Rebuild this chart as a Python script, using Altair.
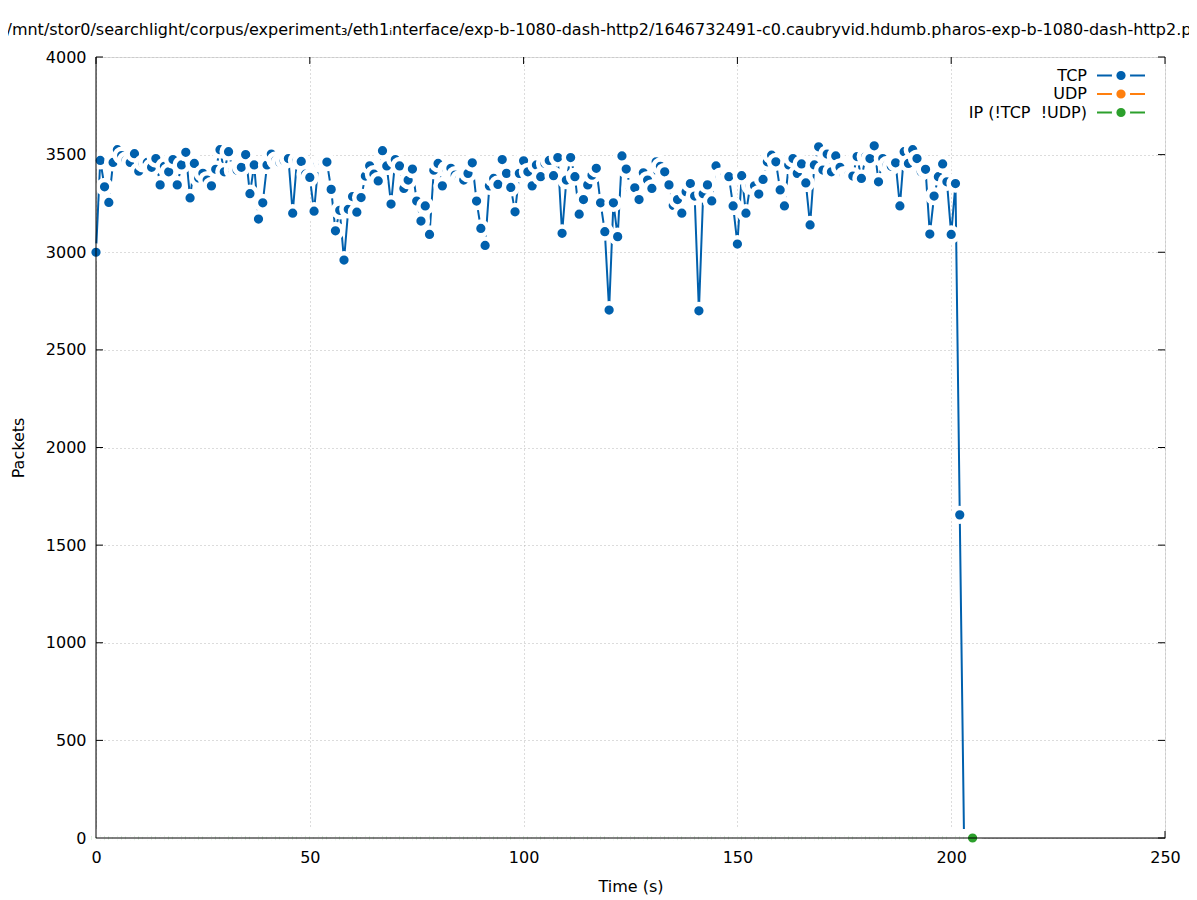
import altair as alt
import pandas as pd

# ---------------- data ----------------
title_text = ("/mnt/stor0/searchlight/corpus/experiment\u2083/eth1\u1d62nterface/"
              "exp-b-1080-dash-http2/1646732491-c0.caubryvid.hdumb.pharos-exp-b-1080-dash-http2.pcap")

series_names = ["TCP", "UDP", "IP (!TCP \u00a0!UDP)"]
series_colors = ["#0060ad", "#ff7f0e", "#2ca02c"]

x_ticks = [0, 50, 100, 150, 200, 250]
y_ticks = [0, 500, 1000, 1500, 2000, 2500, 3000, 3500, 4000]

tcp_time = list(range(0, 204))
tcp_packets = [
    3000, 3470, 3335, 3255, 3460, 3525, 3495, 3470, 3460, 3505,
    3415, 3455, 3460, 3435, 3480, 3345, 3440, 3412, 3475, 3345,
    3447, 3512, 3278, 3455, 3380, 3404, 3370, 3340, 3425, 3525,
    3412, 3515, 3420, 3420, 3435, 3500, 3300, 3447, 3170, 3253,
    3447, 3503, 3470, 3460, 3470, 3480, 3200, 3470, 3465, 3400,
    3383, 3210, 3455, 3460, 3462, 3322, 3110, 3215, 2960, 3220,
    3285, 3205, 3280, 3390, 3443, 3400, 3365, 3520, 3442, 3247,
    3475, 3442, 3327, 3370, 3426, 3262, 3160, 3237, 3091, 3420,
    3455, 3340, 3425, 3430, 3395, 3375, 3370, 3404, 3458, 3262,
    3122, 3035, 3340, 3378, 3347, 3475, 3404, 3332, 3207, 3404,
    3468, 3412, 3340, 3447, 3387, 3455, 3470, 3392, 3485, 3097,
    3370, 3485, 3387, 3195, 3270, 3345, 3395, 3430, 3253, 3105,
    2704, 3253, 3080, 3493, 3426, 3327, 3330, 3270, 3407, 3370,
    3327, 3463, 3440, 3412, 3345, 3240, 3270, 3200, 3310, 3352,
    3288, 2700, 3300, 3345, 3263, 3442, 3387, 3390, 3387, 3237,
    3042, 3392, 3200, 3340, 3340, 3298, 3373, 3463, 3497, 3463,
    3319, 3237, 3447, 3480, 3404, 3452, 3355, 3140, 3447, 3540,
    3421, 3503, 3412, 3493, 3435, 3395, 3395, 3390, 3490, 3378,
    3490, 3480, 3545, 3361, 3480, 3447, 3440, 3458, 3237, 3515,
    3455, 3525, 3480, 3412, 3425, 3093, 3288, 3387, 3452, 3361,
    3091, 3352, 1655, 0,
]

other_time = list(range(0, 206))
udp_packets = [
    0, 0, 0, 0, 0, 0, 0, 0, 0, 0, 0, 0, 0, 0, 0, 0, 0, 0, 0, 0,
    0, 0, 0, 0, 0, 0, 0, 0, 0, 0, 0, 0, 0, 0, 0, 0, 0, 0, 0, 0,
    0, 0, 0, 0, 0, 0, 0, 0, 0, 0, 0, 0, 0, 0, 0, 0, 0, 0, 0, 0,
    0, 0, 0, 0, 0, 0, 0, 0, 0, 0, 0, 0, 0, 0, 0, 0, 0, 0, 0, 0,
    0, 0, 0, 0, 0, 0, 0, 0, 0, 0, 0, 0, 0, 0, 0, 0, 0, 0, 0, 0,
    0, 0, 0, 0, 0, 0, 0, 0, 0, 0, 0, 0, 0, 0, 0, 0, 0, 0, 0, 0,
    0, 0, 0, 0, 0, 0, 0, 0, 0, 0, 0, 0, 0, 0, 0, 0, 0, 0, 0, 0,
    0, 0, 0, 0, 0, 0, 0, 0, 0, 0, 0, 0, 0, 0, 0, 0, 0, 0, 0, 0,
    0, 0, 0, 0, 0, 0, 0, 0, 0, 0, 0, 0, 0, 0, 0, 0, 0, 0, 0, 0,
    0, 0, 0, 0, 0, 0, 0, 0, 0, 0, 0, 0, 0, 0, 0, 0, 0, 0, 0, 0,
    0, 0, 0, 0, 0, 0,
]
ip_packets = [
    0, 0, 0, 0, 0, 0, 0, 0, 0, 0, 0, 0, 0, 0, 0, 0, 0, 0, 0, 0,
    0, 0, 0, 0, 0, 0, 0, 0, 0, 0, 0, 0, 0, 0, 0, 0, 0, 0, 0, 0,
    0, 0, 0, 0, 0, 0, 0, 0, 0, 0, 0, 0, 0, 0, 0, 0, 0, 0, 0, 0,
    0, 0, 0, 0, 0, 0, 0, 0, 0, 0, 0, 0, 0, 0, 0, 0, 0, 0, 0, 0,
    0, 0, 0, 0, 0, 0, 0, 0, 0, 0, 0, 0, 0, 0, 0, 0, 0, 0, 0, 0,
    0, 0, 0, 0, 0, 0, 0, 0, 0, 0, 0, 0, 0, 0, 0, 0, 0, 0, 0, 0,
    0, 0, 0, 0, 0, 0, 0, 0, 0, 0, 0, 0, 0, 0, 0, 0, 0, 0, 0, 0,
    0, 0, 0, 0, 0, 0, 0, 0, 0, 0, 0, 0, 0, 0, 0, 0, 0, 0, 0, 0,
    0, 0, 0, 0, 0, 0, 0, 0, 0, 0, 0, 0, 0, 0, 0, 0, 0, 0, 0, 0,
    0, 0, 0, 0, 0, 0, 0, 0, 0, 0, 0, 0, 0, 0, 0, 0, 0, 0, 0, 0,
    0, 0, 0, 0, 0, 0,
]

# ---------------- layout / style ----------------
W, H = 1069, 781
FONT = "DejaVu Sans"
TICK = 7
PT_SIZE = 189
HALO = 4.5

xs = alt.Scale(domain=[0, 250], nice=False, zero=False)
ys = alt.Scale(domain=[0, 4000], nice=False, zero=False)

x_axis = alt.Axis(values=x_ticks, format="d", grid=True, gridColor="#b8b8b8",
                  gridDash=[1, 3], gridWidth=1, domain=False, ticks=False, tickSize=0,
                  labelPadding=11, labelFontSize=16, labelFont=FONT, labelColor="black",
                  labelFlush=False, labelOverlap=False,
                  titleFontSize=16, titleFont=FONT, titleFontWeight="normal",
                  titleColor="black", titlePadding=13)
y_axis = alt.Axis(values=y_ticks, format="d", grid=True, gridColor="#b8b8b8",
                  gridDash=[1, 3], gridWidth=1, domain=False, ticks=False, tickSize=0,
                  labelPadding=10, labelFontSize=16, labelFont=FONT, labelColor="black",
                  labelFlush=False, labelOverlap=False,
                  titleFontSize=16, titleFont=FONT, titleFontWeight="normal",
                  titleColor="black", titlePadding=19)


def X(field):
    return alt.X(field, type="quantitative", scale=xs, axis=x_axis, title="Time (s)")


def Y(field):
    return alt.Y(field, type="quantitative", scale=ys, axis=y_axis, title="Packets")


tcp_df = pd.DataFrame({"time": tcp_time, "packets": tcp_packets})
udp_df = pd.DataFrame({"time": other_time, "packets": udp_packets})
ip_df = pd.DataFrame({"time": other_time, "packets": ip_packets})
xt_df = pd.DataFrame({"time": x_ticks})
yt_df = pd.DataFrame({"packets": y_ticks})
one_df = pd.DataFrame({"k": [0]})


def series_layers(df, color):
    line = alt.Chart(df).mark_line(color=color, strokeWidth=2).encode(
        x=X("time"), y=Y("packets"))
    pts = alt.Chart(df).mark_point(shape="circle", filled=True, fill=color,
                                   stroke="white", strokeWidth=HALO, size=PT_SIZE,
                                   opacity=1, fillOpacity=1, strokeOpacity=1).encode(
        x=X("time"), y=Y("packets"))
    return [line, pts]


# inward tick marks on all four sides (mirrored tics)
ticks_bottom = alt.Chart(xt_df).mark_rule(color="black", strokeWidth=1).encode(
    x=X("time"), y=alt.value(H), y2=alt.value(H - TICK))
ticks_top = alt.Chart(xt_df).mark_rule(color="black", strokeWidth=1).encode(
    x=X("time"), y=alt.value(0), y2=alt.value(TICK))
ticks_left = alt.Chart(yt_df).mark_rule(color="black", strokeWidth=1).encode(
    y=Y("packets"), x=alt.value(0), x2=alt.value(TICK))
ticks_right = alt.Chart(yt_df).mark_rule(color="black", strokeWidth=1).encode(
    y=Y("packets"), x=alt.value(W), x2=alt.value(W - TICK))

# border lines (left & bottom), drawn over the data
border_left = alt.Chart(one_df).mark_rule(color="black", strokeWidth=1).encode(
    x=alt.value(0), y=alt.value(0), y2=alt.value(H))
border_bottom = alt.Chart(one_df).mark_rule(color="black", strokeWidth=1).encode(
    y=alt.value(H), x=alt.value(0), x2=alt.value(W))

# title
title_layer = alt.Chart(pd.DataFrame({"t": [title_text]})).mark_text(
    align="left", baseline="alphabetic", fontSize=16, font=FONT, color="black").encode(
    x=alt.value(-89.5), y=alt.value(-22), text="t:N")

# key (top right, text right-aligned, sample on the right)
legend_layers = []
row_y = [18.5, 37, 55.5]
for name, color, yy in zip(series_names, series_colors, row_y):
    ldf = pd.DataFrame({"label": [name]})
    legend_layers.append(alt.Chart(ldf).mark_text(
        align="right", baseline="middle", fontSize=16, font=FONT, color="black").encode(
        x=alt.value(991), y=alt.value(yy), text="label:N"))
    legend_layers.append(alt.Chart(ldf).mark_rule(color=color, strokeWidth=2).encode(
        x=alt.value(1001), x2=alt.value(1049), y=alt.value(yy)))
    legend_layers.append(alt.Chart(ldf).mark_point(
        shape="circle", filled=True, fill=color, stroke="white", strokeWidth=HALO,
        size=PT_SIZE, opacity=1, fillOpacity=1, strokeOpacity=1).encode(
        x=alt.value(1025), y=alt.value(yy)))

layers = [ticks_bottom, ticks_top, ticks_left, ticks_right]
layers += series_layers(tcp_df, series_colors[0])
layers += series_layers(udp_df, series_colors[1])
layers += series_layers(ip_df, series_colors[2])
layers += [border_left, border_bottom, title_layer]
layers += legend_layers

# whole svg: 88+1069+24 = 1181 wide, 49+781+60 = 890 tall (page bottom margin removed)
chart = alt.layer(*layers).properties(
    width=W, height=H,
    padding={"left": 88, "top": 49, "right": 24, "bottom": 60},
    autosize=alt.AutoSizeParams(type="none"),
    background="white",
).configure_view(stroke=None).configure(font=FONT)

chart.save("out.html", embed_options={
    "renderer": "svg", "actions": False,
    "defaultStyle": ".vega-embed{display:block;position:relative} .vega-embed svg{display:block} body{margin-bottom:0}",
})
